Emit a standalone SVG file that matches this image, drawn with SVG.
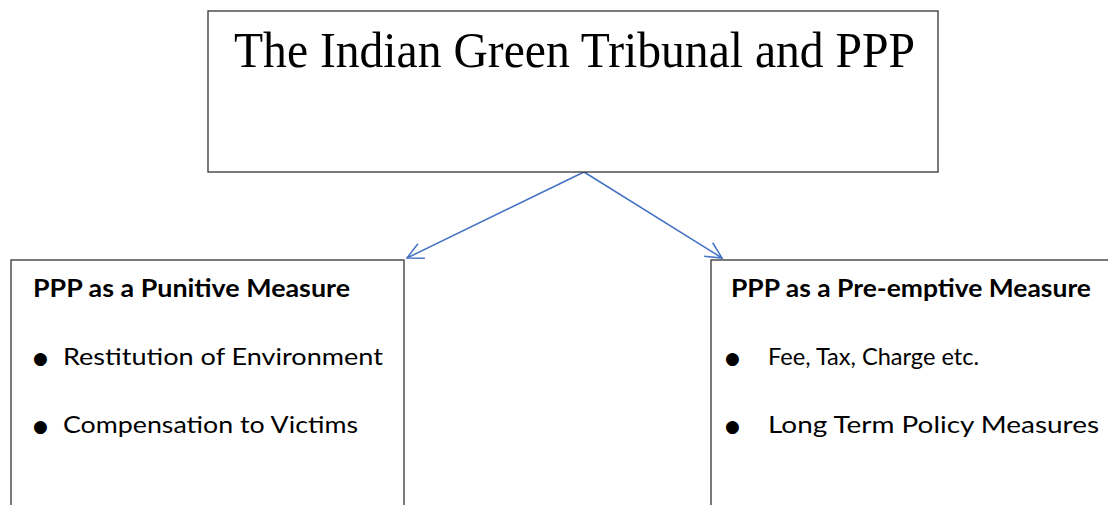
<svg xmlns="http://www.w3.org/2000/svg" width="1108" height="505" viewBox="0 0 1108 505">
<style>
.box{fill:#fff;stroke:#333;stroke-width:1.3}
.title{font-family:"Liberation Serif","Times New Roman",serif;font-size:51px;fill:#000}
.head{font-family:Lato,"Open Sans","Liberation Sans",sans-serif;font-weight:bold;font-size:24px;fill:#000}
.item{font-family:Lato,"Open Sans","Liberation Sans",sans-serif;font-size:24px;fill:#000}
.bul{font-family:"DejaVu Sans",sans-serif;font-size:17px;fill:#000}
.conn{stroke:#4472C4;stroke-width:1.5;fill:none}
</style>
<defs>
<marker id="arr" viewBox="0 0 20 20" refX="18" refY="10" markerWidth="20" markerHeight="20" markerUnits="userSpaceOnUse" orient="auto">
<path d="M2,2 L18,10 L2,18" fill="none" stroke="#4472C4" stroke-width="1.5"/>
</marker>
</defs>
<rect width="1108" height="505" fill="#fff"/>
<g id="connectors">
<line class="conn" x1="584" y1="172" x2="407" y2="258" marker-end="url(#arr)"/>
<line class="conn" x1="584" y1="172" x2="722" y2="258" marker-end="url(#arr)"/>
</g>
<g id="top">
<rect class="box" x="208" y="11" width="730" height="161"/>
<text class="title" x="234" y="67" textLength="681" lengthAdjust="spacingAndGlyphs">The Indian Green Tribunal and PPP</text>
</g>
<g id="punitive">
<rect class="box" x="11" y="260" width="393" height="260"/>
<text class="head" x="33" y="297" textLength="317" lengthAdjust="spacingAndGlyphs">PPP as a Punitive Measure</text>
<text class="bul" x="33" y="364">●</text>
<text class="item" x="63" y="365" textLength="320" lengthAdjust="spacingAndGlyphs">Restitution of Environment</text>
<text class="bul" x="33" y="432">●</text>
<text class="item" x="63" y="433" textLength="295" lengthAdjust="spacingAndGlyphs">Compensation to Victims</text>
</g>
<g id="preemptive">
<rect class="box" x="711" y="260" width="420" height="260"/>
<text class="head" x="731" y="297" textLength="360" lengthAdjust="spacingAndGlyphs">PPP as a Pre-emptive Measure</text>
<text class="bul" x="725" y="364">●</text>
<text class="item" x="768" y="365" textLength="211" lengthAdjust="spacingAndGlyphs">Fee, Tax, Charge etc.</text>
<text class="bul" x="725" y="432">●</text>
<text class="item" x="768" y="433" textLength="331" lengthAdjust="spacingAndGlyphs">Long Term Policy Measures</text>
</g>
</svg>
